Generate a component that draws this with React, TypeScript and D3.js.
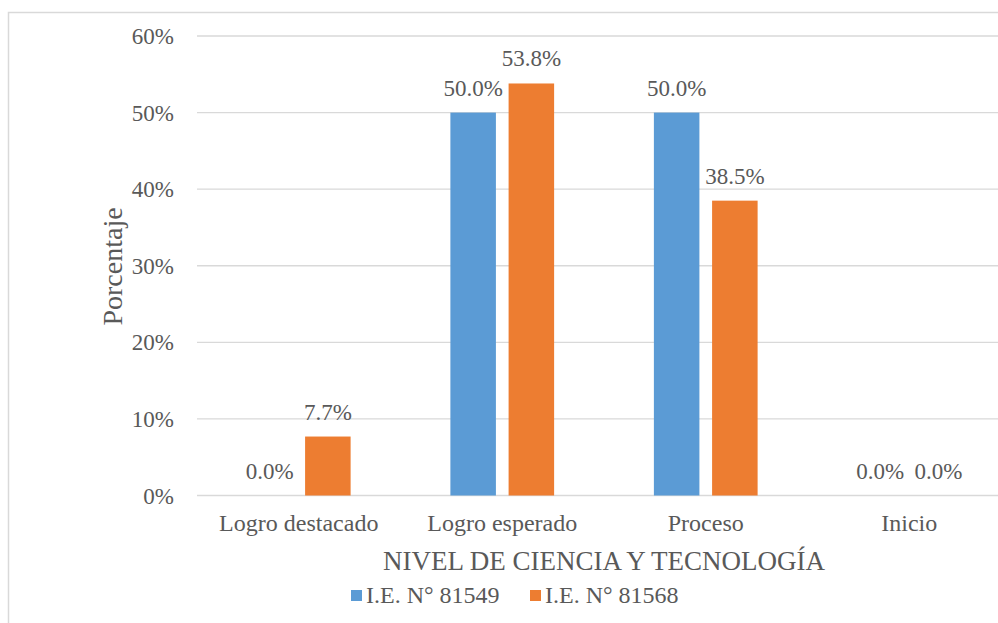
import React from "react";
import * as d3 from "d3";

const categories = ["Logro destacado", "Logro esperado", "Proceso", "Inicio"];
const seriesNames = ["I.E. N° 81549", "I.E. N° 81568"];
const series1549 = [0.0, 0.5, 0.5, 0.0];
const series1568 = [0.077, 0.538, 0.385, 0.0];
const yTicks = [0, 0.1, 0.2, 0.3, 0.4, 0.5, 0.6];
const colors = ["#5B9BD5", "#ED7D31"];

const W = 998;
const H = 623;
const FONT = "Liberation Serif, Times New Roman, serif";
const TXT = "#595959";

export default function App() {
  const x = d3.scaleBand<string>().domain(categories).range([197, 1011]).paddingInner(0).paddingOuter(0);
  const inner = d3.scaleBand<string>().domain(seriesNames).range([0, x.bandwidth()]).paddingInner(0.218).paddingOuter(0.857);
  const y = d3.scaleLinear().domain([0, 0.6]).range([495.5, 36]);
  const seriesData = [series1549, series1568];
  const pct0 = d3.format(".0%");
  const pct1 = d3.format(".1%");
  const [x0, x1] = x.range();
  const ts = { fontFamily: FONT };

  return (
    <svg width={W} height={H} fontFamily={FONT} style={{ position: "absolute", left: 0, top: 0, display: "block", background: "#fff", fontFamily: FONT }}>
      <rect x={8.5} y={12.5} width={1200} height={800} fill="none" stroke="#d9d9d9" strokeWidth={1.5} />
      {yTicks.map((t) => (
        <g key={t}>
          <line x1={x0} x2={x1} y1={y(t)} y2={y(t)} stroke="#d9d9d9" strokeWidth={1.3} />
          <text x={174} y={y(t) + 8} textAnchor="end" fontSize={23} style={ts} fill={TXT}>
            {pct0(t)}
          </text>
        </g>
      ))}
      {seriesNames.map((s, si) =>
        categories.map((c, ci) => {
          const v = seriesData[si][ci];
          const bx = (x(c) as number) + (inner(s) as number);
          const bw = inner.bandwidth();
          return (
            <g key={s + c}>
              <rect x={bx} y={y(v)} width={bw} height={y(0) - y(v)} fill={colors[si]} />
              <text x={bx + bw / 2} y={y(v) - 17} textAnchor="middle" fontSize={23} style={ts} fill={TXT}>
                {pct1(v)}
              </text>
            </g>
          );
        })
      )}
      {categories.map((c) => (
        <text key={c} x={(x(c) as number) + x.bandwidth() / 2} y={531} textAnchor="middle" fontSize={24} style={ts} fill={TXT}>
          {c}
        </text>
      ))}
      <text x={(x0 + x1) / 2} y={569.5} textAnchor="middle" fontSize={27} style={ts} fill={TXT}>
        NIVEL DE CIENCIA Y TECNOLOGÍA
      </text>
      <text transform={`translate(122,266.5) rotate(-90)`} textAnchor="middle" fontSize={28} style={ts} fill={TXT}>
        Porcentaje
      </text>
      {seriesNames.map((s, i) => {
        const lx = [351, 530][i];
        return (
          <g key={s}>
            <rect x={lx} y={590} width={11} height={11} fill={colors[i]} />
            <text x={lx + 15} y={602.5} fontSize={24} style={ts} fill={TXT}>
              {s}
            </text>
          </g>
        );
      })}
    </svg>
  );
}
